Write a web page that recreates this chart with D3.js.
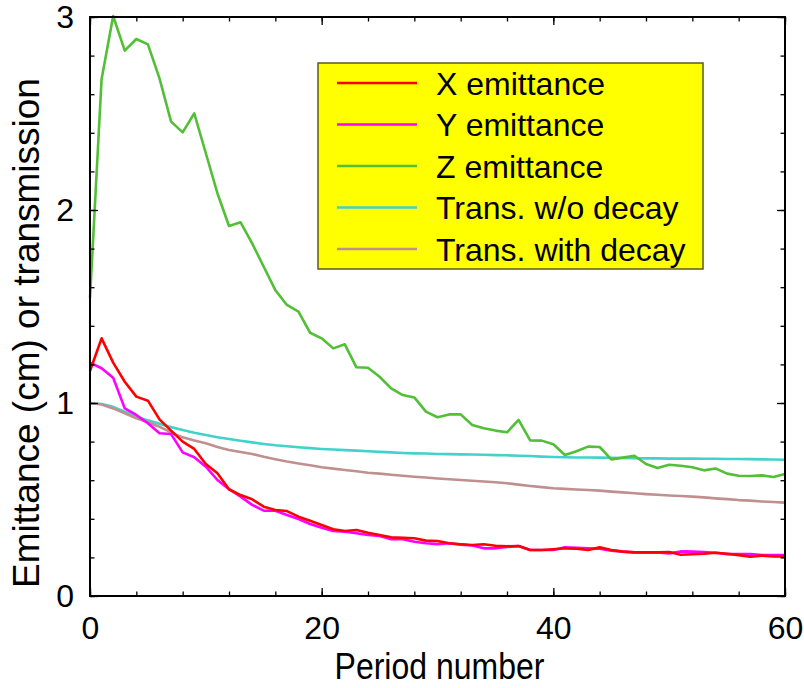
<!DOCTYPE html>
<html>
<head>
<meta charset="utf-8">
<script src="https://cdn.jsdelivr.net/npm/d3@7/dist/d3.min.js"></script>
<style>
  html, body { margin: 0; padding: 0; background: #fff; }
  svg { display: block; }
  text { font-family: "Liberation Sans", Arial, Helvetica, sans-serif; fill: #000; }
</style>
</head>
<body>
<svg id="chart" width="804" height="688"></svg>
<script>
// ---- data ----
const periods = d3.range(0, 61);
const xEmittance = [1.166,1.335,1.209,1.110,1.033,1.012,0.915,0.857,0.800,0.762,0.684,0.636,0.553,0.523,0.501,0.463,0.446,0.440,0.411,0.390,0.368,0.346,0.337,0.342,0.328,0.316,0.304,0.302,0.299,0.287,0.285,0.273,0.268,0.264,0.268,0.260,0.258,0.259,0.238,0.238,0.242,0.247,0.245,0.238,0.252,0.238,0.230,0.226,0.226,0.226,0.228,0.214,0.216,0.219,0.224,0.219,0.212,0.204,0.209,0.205,0.205];
const yEmittance = [1.209,1.180,1.131,0.972,0.938,0.895,0.843,0.839,0.744,0.719,0.670,0.601,0.553,0.515,0.472,0.442,0.442,0.420,0.399,0.373,0.354,0.337,0.333,0.325,0.316,0.311,0.294,0.294,0.281,0.273,0.269,0.273,0.266,0.262,0.247,0.247,0.254,0.259,0.238,0.238,0.238,0.252,0.250,0.247,0.245,0.235,0.230,0.226,0.226,0.226,0.221,0.231,0.230,0.228,0.224,0.217,0.217,0.217,0.212,0.212,0.212];
const zEmittance = [1.544,2.677,3.005,2.826,2.886,2.858,2.682,2.458,2.402,2.501,2.294,2.087,1.917,1.936,1.827,1.706,1.585,1.508,1.473,1.364,1.335,1.283,1.304,1.185,1.183,1.136,1.076,1.041,1.029,0.955,0.926,0.941,0.941,0.886,0.869,0.857,0.848,0.912,0.806,0.805,0.786,0.731,0.750,0.774,0.772,0.708,0.717,0.727,0.684,0.663,0.680,0.675,0.667,0.651,0.661,0.634,0.623,0.622,0.625,0.617,0.632];
const transNoDecay = [1.000,0.995,0.980,0.955,0.930,0.910,0.892,0.875,0.860,0.846,0.834,0.823,0.813,0.804,0.796,0.788,0.781,0.776,0.771,0.766,0.762,0.759,0.756,0.753,0.750,0.747,0.744,0.741,0.739,0.738,0.736,0.735,0.734,0.733,0.732,0.730,0.729,0.727,0.725,0.722,0.720,0.719,0.718,0.718,0.717,0.716,0.715,0.714,0.713,0.713,0.712,0.712,0.712,0.711,0.711,0.710,0.710,0.709,0.708,0.707,0.706];
const transWithDecay = [1.000,0.992,0.972,0.947,0.921,0.900,0.877,0.848,0.822,0.806,0.791,0.772,0.756,0.746,0.736,0.721,0.709,0.697,0.687,0.677,0.667,0.660,0.653,0.646,0.639,0.634,0.628,0.623,0.618,0.614,0.609,0.605,0.601,0.597,0.593,0.589,0.584,0.577,0.570,0.564,0.558,0.555,0.552,0.549,0.546,0.541,0.537,0.532,0.528,0.525,0.521,0.518,0.515,0.511,0.506,0.502,0.497,0.494,0.490,0.487,0.484];

const seriesNames = ["X emittance","Y emittance","Z emittance","Trans. w/o decay","Trans. with decay"];
const seriesValues = [xEmittance, yEmittance, zEmittance, transNoDecay, transWithDecay];
const seriesColors = ["#ff0000","#ff00ff","#52bf37","#42d2cc","#c09090"];
const xMajorTicks = [0, 20, 40, 60];
const xMinorTicks = d3.range(0, 61, 4);
const yMajorTicks = [0, 1, 2, 3];
const yMinorTicks = d3.range(0, 3.0001, 0.2);
const xTitle = "Period number";
const yTitle = "Emittance (cm) or transmission";

// ---- layout ----
const svg = d3.select("#chart");
const L = 90, R = 785, T = 17, B = 596;
const x = d3.scaleLinear().domain([0, 60]).range([L, R]);
const y = d3.scaleLinear().domain([0, 3]).range([B, T]);
const FS = 32;

// lines
const line = d3.line().x((d, i) => x(periods[i])).y(d => y(d));
const plot = svg.append("g");
const order = [3, 4, 2, 1, 0];
order.forEach(k => {
  plot.append("path")
    .datum(seriesValues[k])
    .attr("fill", "none")
    .attr("stroke", seriesColors[k])
    .attr("stroke-width", 2.6)
    .attr("stroke-linejoin", "round")
    .attr("d", line);
});

// axes
function styleAxis(g) {
  g.select(".domain").remove();
  g.selectAll(".tick line").attr("stroke", "#000").attr("stroke-width", 1.3);
  g.selectAll("text").style("font-size", FS + "px").style("font-family", '"Liberation Sans", Arial, sans-serif');
}
svg.append("g").attr("transform", `translate(0,${B})`)
  .call(d3.axisBottom(x).tickValues(xMinorTicks).tickSize(-4.5).tickFormat(""))
  .call(styleAxis);
svg.append("g").attr("transform", `translate(0,${B})`)
  .call(d3.axisBottom(x).tickValues(xMajorTicks).tickSize(-8).tickPadding(20).tickFormat(d3.format("d")))
  .call(styleAxis);
svg.append("g").attr("transform", `translate(0,${T})`)
  .call(d3.axisTop(x).tickValues(xMinorTicks).tickSize(-4.5).tickFormat(""))
  .call(styleAxis);
svg.append("g").attr("transform", `translate(0,${T})`)
  .call(d3.axisTop(x).tickValues(xMajorTicks).tickSize(-8).tickFormat(""))
  .call(styleAxis);
svg.append("g").attr("transform", `translate(${L},0)`)
  .call(d3.axisLeft(y).tickValues(yMinorTicks).tickSize(-4.5).tickFormat(""))
  .call(styleAxis);
svg.append("g").attr("transform", `translate(${L},0)`)
  .call(d3.axisLeft(y).tickValues(yMajorTicks).tickSize(-8).tickPadding(16).tickFormat(d3.format("d")))
  .call(styleAxis);
svg.append("g").attr("transform", `translate(${R},0)`)
  .call(d3.axisRight(y).tickValues(yMinorTicks).tickSize(-4.5).tickFormat(""))
  .call(styleAxis);
svg.append("g").attr("transform", `translate(${R},0)`)
  .call(d3.axisRight(y).tickValues(yMajorTicks).tickSize(-8).tickFormat(""))
  .call(styleAxis);

// frame
svg.append("rect").attr("x", L).attr("y", T).attr("width", R - L).attr("height", B - T)
  .attr("fill", "none").attr("stroke", "#000").attr("stroke-width", 2);

// titles
svg.append("text").attr("transform", `translate(${(L + R) / 2 + 2},679) scale(1,1.15)`)
  .attr("text-anchor", "middle").style("font-size", FS + "px").text(xTitle);
svg.append("text").attr("transform", `translate(39,333) rotate(-90)`)
  .attr("text-anchor", "middle").style("font-size", "37px").text(yTitle);

// legend
const lg = svg.append("g");
lg.append("rect").attr("x", 318).attr("y", 63).attr("width", 385).attr("height", 206)
  .attr("fill", "#ffff00").attr("stroke", "#5c5a1e").attr("stroke-width", 1.5);
seriesNames.forEach((name, k) => {
  const yy = 83 + k * 41.5;
  lg.append("line").attr("x1", 337).attr("x2", 417).attr("y1", yy).attr("y2", yy)
    .attr("stroke", seriesColors[k]).attr("stroke-width", 2.6);
  lg.append("text").attr("x", 436).attr("y", yy).attr("dy", "0.36em")
    .style("font-size", FS + "px").text(name);
});
</script>
</body>
</html>
